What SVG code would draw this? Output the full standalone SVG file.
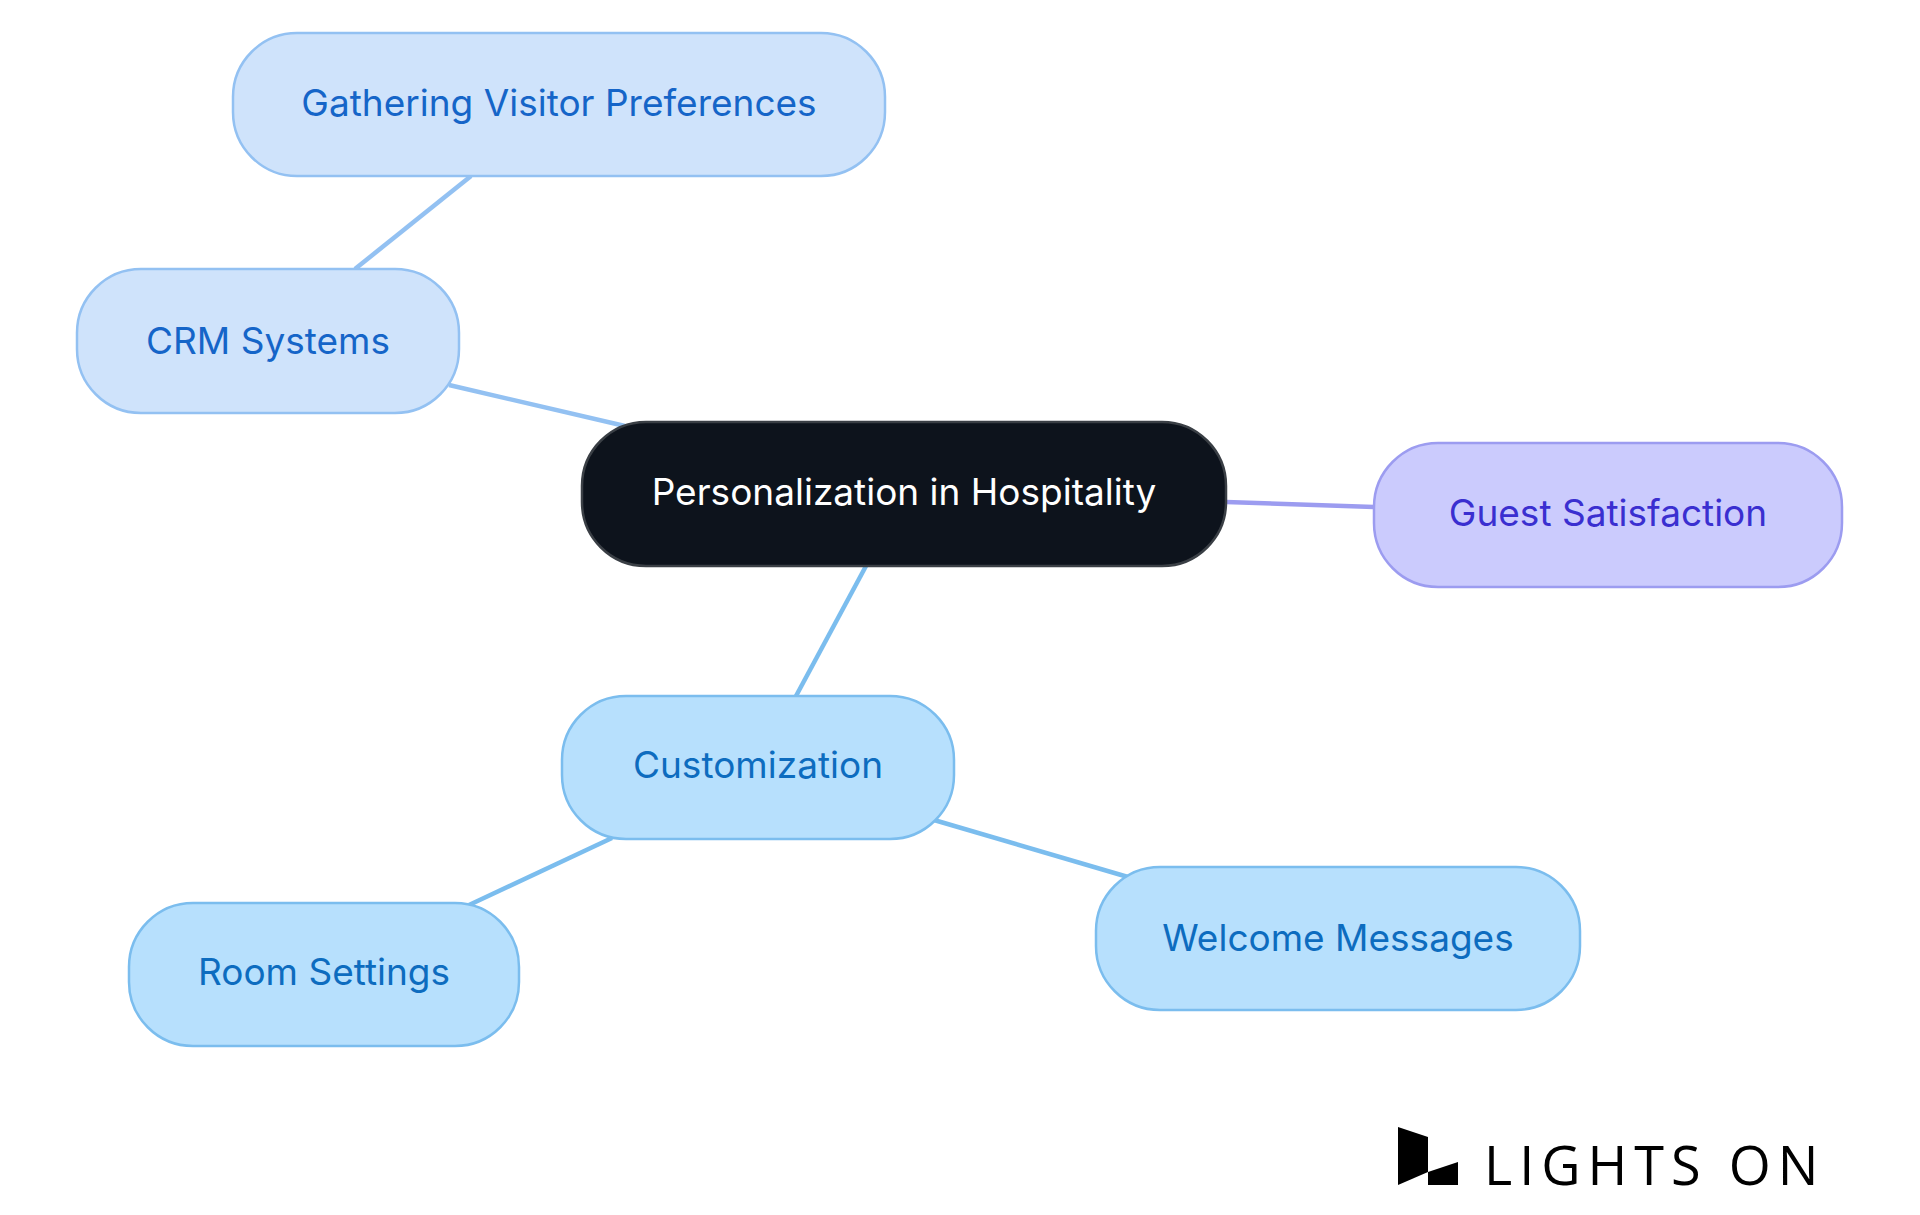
<svg xmlns="http://www.w3.org/2000/svg" width="1920" height="1215" viewBox="0 0 1920 1215">
<style>
.n rect{stroke-width:2.5}
.b rect{fill:#cfe3fb;stroke:#93c1f2}
.b text{fill:#1565c8}
.c rect{fill:#b7e0fd;stroke:#7bbdee}
.c text{fill:#0d6cbf}
.g rect{fill:#cbcbfd;stroke:#9c9cf0}
.g text{fill:#3a2fd0}
text{font-family:Inter,"Noto Sans",sans-serif;font-size:37px;text-anchor:middle;dominant-baseline:central}
.e line{stroke-width:4.5;fill:none}
</style>
<rect width="1920" height="1215" fill="#fff"/>
<g class="e">
<line x1="449" y1="385" x2="625" y2="426" stroke="#93c1f2"/>
<line x1="471" y1="176" x2="355" y2="269" stroke="#93c1f2"/>
<line x1="1226" y1="502" x2="1374" y2="507" stroke="#9c9cf0"/>
<line x1="866" y1="566" x2="796" y2="696" stroke="#7bbdee"/>
<line x1="612" y1="838" x2="469" y2="905" stroke="#7bbdee"/>
<line x1="934" y1="820" x2="1128" y2="877" stroke="#7bbdee"/>
</g>
<g id="center" class="n"><rect x="582" y="422" width="644" height="144" rx="64" fill="#0d131c" stroke="#3a3f45"/><text x="904" y="491" fill="#fff">Personalization in Hospitality</text></g>
<g id="gathering" class="n b"><rect x="233" y="33" width="652" height="143" rx="64"/><text x="559" y="102">Gathering Visitor Preferences</text></g>
<g id="crm" class="n b"><rect x="77" y="269" width="382" height="144" rx="64"/><text x="268" y="340">CRM Systems</text></g>
<g id="guest" class="n g"><rect x="1374" y="443" width="468" height="144" rx="64"/><text x="1608" y="512">Guest Satisfaction</text></g>
<g id="custom" class="n c"><rect x="562" y="696" width="392" height="143" rx="64"/><text x="758" y="764">Customization</text></g>
<g id="room" class="n c"><rect x="129" y="903" width="390" height="143" rx="64"/><text x="324" y="971">Room Settings</text></g>
<g id="welcome" class="n c"><rect x="1096" y="867" width="484" height="143" rx="64"/><text x="1338" y="937">Welcome Messages</text></g>
<g id="logo">
<polygon points="1398,1127 1428,1137 1428,1172 1398,1185" fill="#000"/>
<polygon points="1428,1172 1458,1162 1458,1185 1428,1185" fill="#000"/>
<text x="1484" y="1185" style="font-family:'Open Sans',sans-serif;font-size:54px;font-weight:500;text-anchor:start;letter-spacing:7px;dominant-baseline:auto" fill="#000">LIGHTS ON</text>
</g>
</svg>
